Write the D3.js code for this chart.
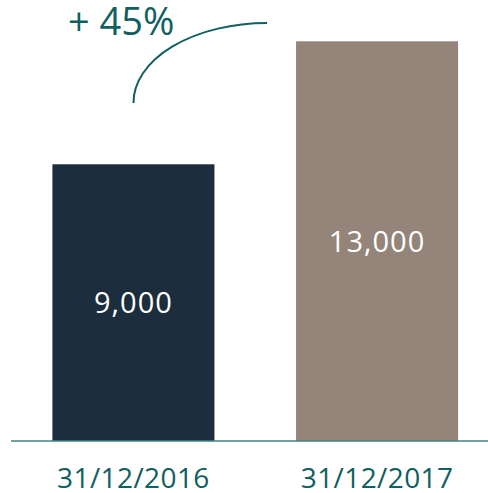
<!DOCTYPE html>
<html>
<head>
<meta charset="utf-8">
<script src="https://cdn.jsdelivr.net/npm/d3@7"></script>
<style>
  body { margin: 0; background: #fff; }
  svg { display: block; font-family: "Open Sans", Lato, sans-serif; }
</style>
</head>
<body>
<div class="chart"></div>
<script>
var dates = ["31/12/2016", "31/12/2017"];
var values = [9000, 13000];
var valueLabels = ["9,000", "13,000"];
var colors = ["#1c2d3d", "#948479"];
var growthLabel = "+ 45%";

var width = 488, height = 493;
var teal = "#0f6060";

var svg = d3.select(".chart").append("svg")
  .attr("width", width)
  .attr("height", height);

var x = d3.scaleBand()
  .domain(dates)
  .range([11, 499.5])
  .paddingInner(0.335)
  .paddingOuter(0.17);

var y = d3.scaleLinear()
  .domain([0, 13000])
  .range([441, 41.3]);

// bars
svg.selectAll("rect.bar")
  .data(values)
  .enter().append("rect")
  .attr("class", "bar")
  .attr("x", (d, i) => x(dates[i]))
  .attr("y", d => y(d))
  .attr("width", x.bandwidth())
  .attr("height", d => y(0) - y(d))
  .attr("fill", (d, i) => colors[i]);

// value labels in the middle of each bar
svg.selectAll("text.val")
  .data(values)
  .enter().append("text")
  .attr("class", "val")
  .attr("x", (d, i) => x(dates[i]) + x.bandwidth() / 2)
  .attr("y", d => (y(d) + y(0)) / 2)
  .attr("dy", "0.36em")
  .attr("text-anchor", "middle")
  .attr("fill", "#fff")
  .attr("font-size", 29)
  .attr("letter-spacing", 1)
  .text((d, i) => valueLabels[i]);

// baseline axis
var axis = svg.append("g")
  .attr("transform", "translate(0," + y(0) + ")")
  .call(d3.axisBottom(x).tickSize(0));
axis.select(".domain").remove();
axis.append("line")
  .attr("x1", 11).attr("x2", width)
  .attr("stroke", "#3f8585")
  .attr("stroke-width", 1.5);
axis.selectAll(".tick text")
  .attr("y", 47)
  .attr("dy", 0)
  .attr("fill", teal)
  .attr("font-size", 28)
  .attr("letter-spacing", 0.4)
  .attr("font-family", "'Open Sans', Lato, sans-serif");

// growth annotation
var x0 = x(dates[0]) + x.bandwidth() / 2;
var arcEndX = 267, arcTopY = 23, arcBotY = 103;
svg.append("path")
  .attr("d", "M" + x0 + "," + arcBotY +
    " A" + (arcEndX - x0) + "," + (arcBotY - arcTopY) + " 0 0 1 " + arcEndX + "," + arcTopY)
  .attr("fill", "none")
  .attr("stroke", teal)
  .attr("stroke-width", 2);

svg.append("text")
  .attr("x", 68)
  .attr("y", 35)
  .attr("fill", teal)
  .attr("font-size", 38)
  .text(growthLabel);
</script>
</body>
</html>
